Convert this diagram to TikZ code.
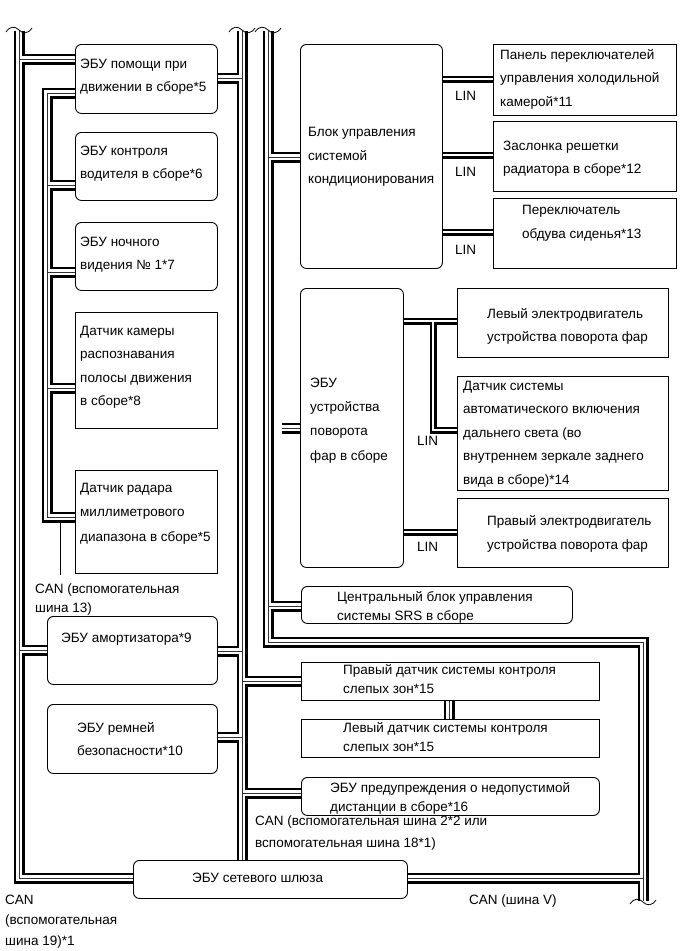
\documentclass[tikz,border=0pt]{standalone}
\usepackage{fontspec}
\setmainfont{Liberation Sans}
\pgfdeclarelayer{bg}
\pgfdeclarelayer{la}
\pgfdeclarelayer{lb}
\pgfdeclarelayer{lc}
\pgfsetlayers{bg,la,lb,lc,main}
\tikzset{
  rbox/.style={draw, line width=0.9pt, rounded corners=6pt, fill=white, inner sep=0pt, anchor=north west},
  sbox/.style={draw, line width=0.9pt, fill=white, inner sep=0pt, anchor=north west},
  txt/.style={inner sep=0pt, anchor=north west, align=left, font=\fontsize{13.5}{23.5}\selectfont},
  txtw/.style={txt, font=\fontsize{13.5}{24.3}\selectfont},
  txtm/.style={txt, font=\fontsize{13.5}{22}\selectfont},
  txtn/.style={txt, font=\fontsize{13.5}{20.5}\selectfont},
  txts/.style={txt, font=\fontsize{13.5}{19}\selectfont},
  busA/.style={line width=11pt, draw=black, line join=miter},
  busB/.style={line width=6.6pt, draw=white, line join=miter},
  busC/.style={line width=0.9pt, draw=black!80, line join=miter},
  linA/.style={line width=7pt, draw=black, line join=miter},
  linB/.style={line width=1.3pt, draw=white, line join=miter},
  brk/.style={line width=0.8pt, draw=black},
}
\newcommand\buspaths[1]{%
  % CAN sub bus 19 (left)
  \draw[#1] (Ltop) -- (19,878) -- (gate.west |- 0,878);
  \draw[#1] (19,59) -- (ecuA.west |- 0,59);
  \draw[#1] (19,650) -- (absE.west |- 0,650);
  % CAN sub bus 13
  \draw[#1] (ecuA.west |- 0,93) -- (47,93) -- (47,517) -- (radS.west |- 0,517);
  \draw[#1] (47,185) -- (ecuB.west |- 0,185);
  \draw[#1] (47,272) -- (ecuC.west |- 0,272);
  \draw[#1] (47,388) -- (camS.west |- 0,388);
  % CAN sub bus 2 / 18
  \draw[#1] (Btop) -- (gate.north -| 242,0);
  \draw[#1] (ecuA.east |- 0,78) -- (242,78);
  \draw[#1] (absE.east |- 0,651) -- (242,651);
  \draw[#1] (belt.east |- 0,737) -- (242,737);
  \draw[#1] (242,681) -- (bsmR.west |- 0,681);
  \draw[#1] (242,793) -- (dist.west |- 0,793);
  \draw[#1] (bsmR.south -| 449,0) -- (bsmL.north -| 449,0);
  % CAN V bus
  \draw[#1] (Vtop) -- (268,642) -- (643,642) -- (Vbot);
  \draw[#1] (gate.east |- 0,878) -- (643,878);
  \draw[#1] (268,157) -- (acE.west |- 0,157);
  \draw[#1] (hlstub) -- (hlE.west |- 0,428);
  \draw[#1] (268,606) -- (srs.west |- 0,606);
}
\newcommand\linpaths[1]{%
  \draw[#1] (acE.east |- 0,79) -- (pan.west |- 0,79);
  \draw[#1] (acE.east |- 0,155) -- (grl.west |- 0,155);
  \draw[#1] (acE.east |- 0,232) -- (seat.west |- 0,232);
  \draw[#1] (hlE.east |- 0,321) -- (lmot.west |- 0,321);
  \draw[#1] (433,321) -- (433,430) -- (hbs.west |- 0,430);
  \draw[#1] (hlE.east |- 0,532) -- (rmot.west |- 0,532);
}
\newcommand\brkmark[2]{%
  \draw[brk] (#1-13,#2+2) .. controls (#1-9,#2-4) and (#1-4,#2-4) .. (#1,#2) .. controls (#1+4,#2+4) and (#1+9,#2+4) .. (#1+13,#2-2);
}
\begin{document}
\begin{tikzpicture}[x=1pt,y=-1pt]
\useasboundingbox (0,0) rectangle (690,951);
\begin{pgfonlayer}{bg}
  \fill[white] (0,0) rectangle (690,951);
\end{pgfonlayer}

% ---------- boxes ----------
\node[rbox, minimum width=142pt, minimum height=69pt]  (ecuA) at (75,44) {};
\node[rbox, minimum width=142pt, minimum height=68pt]  (ecuB) at (75,132) {};
\node[rbox, minimum width=142pt, minimum height=68pt]  (ecuC) at (75,222) {};
\node[sbox, minimum width=142pt, minimum height=116pt] (camS) at (75,312) {};
\node[sbox, minimum width=142pt, minimum height=103pt] (radS) at (75,470) {};
\node[rbox, minimum width=170pt, minimum height=68pt]  (absE) at (47,616) {};
\node[rbox, minimum width=170pt, minimum height=69pt]  (belt) at (47,704) {};
\node[rbox, minimum width=274pt, minimum height=38pt]  (gate) at (133,860) {};
\node[rbox, minimum width=142pt, minimum height=224pt] (acE)  at (300,44) {};
\node[sbox, minimum width=183pt, minimum height=71pt]  (pan)  at (493,44) {};
\node[sbox, minimum width=183pt, minimum height=70pt]  (grl)  at (493,121) {};
\node[sbox, minimum width=183pt, minimum height=70pt]  (seat) at (493,198) {};
\node[rbox, minimum width=103pt, minimum height=279pt] (hlE)  at (300,288) {};
\node[sbox, minimum width=211pt, minimum height=69pt]  (lmot) at (457,288) {};
\node[sbox, minimum width=211pt, minimum height=114pt] (hbs)  at (457,376) {};
\node[sbox, minimum width=211pt, minimum height=69pt]  (rmot) at (457,498) {};
\node[rbox, minimum width=271pt, minimum height=37pt]  (srs)  at (301,586) {};
\node[sbox, minimum width=298pt, minimum height=38pt]  (bsmR) at (301,662) {};
\node[sbox, minimum width=298pt, minimum height=38pt]  (bsmL) at (301,719) {};
\node[rbox, minimum width=298pt, minimum height=38pt]  (dist) at (301,777) {};

% ---------- bus coordinates ----------
\coordinate (Ltop) at (19,31);
\coordinate (Btop) at (242,31);
\coordinate (Vtop) at (268,31);
\coordinate (Vbot) at (643,901);
\coordinate (hlstub) at (282,428);
\coordinate (ldr) at (60,522);
\coordinate (ldrend) at (60,575);

\begin{pgfonlayer}{la}\buspaths{busA}\linpaths{linA}\end{pgfonlayer}
\begin{pgfonlayer}{lb}\buspaths{busB}\linpaths{linB}\end{pgfonlayer}
\begin{pgfonlayer}{lc}\buspaths{busC}\end{pgfonlayer}

\draw[line width=0.6pt] (ldr) -- (ldrend);

% break marks
\brkmark{19}{30}
\brkmark{242}{30}
\brkmark{268}{30}
\brkmark{643}{902}

% ---------- texts ----------
\node[txt] (tA) at (80,58.5) {ЭБУ помощи при\\движении в сборе*5};
\node[txt] (tB) at (80,145.5) {ЭБУ контроля\\водителя в сборе*6};
\node[txt] (tC) at (80,236.5) {ЭБУ ночного\\видения № 1*7};
\node[txt] (tCam) at (80,326) {Датчик камеры\\распознавания\\полосы движения\\в сборе*8};
\node[txtw] (tRad) at (80,483) {Датчик радара\\миллиметрового\\диапазона в сборе*5};
\node[txt] (tAbs) at (61,633) {ЭБУ амортизатора*9};
\node[txt] (tBelt) at (77,722) {ЭБУ ремней\\безопасности*10};
\node[txt] (tGate) at (192,872.5) {ЭБУ сетевого шлюза};
\node[txt] (tAc) at (308,127.5) {Блок управления\\системой\\кондиционирования};
\node[txt] (tPan) at (500,49) {Панель переключателей\\управления холодильной\\камерой*11};
\node[txt] (tGrl) at (503,140.5) {Заслонка решетки\\радиатора в сборе*12};
\node[txt] (tSeat) at (522,205.5) {Переключатель\\обдува сиденья*13};
\node[txtw] (tHl) at (310,377.5) {ЭБУ\\устройства\\поворота\\фар в сборе};
\node[txt] (tLm) at (487,308) {Левый электродвигатель\\устройства поворота фар};
\node[txt] (tHbs) at (463,381) {Датчик системы\\автоматического включения\\дальнего света (во\\внутреннем зеркале заднего\\вида в сборе)*14};
\node[txt] (tRm) at (487,515.5) {Правый электродвигатель\\устройства поворота фар};
\node[txts] (tSrs) at (337,591) {Центральный блок управления\\системы SRS в сборе};
\node[txts] (tBr) at (343,664.5) {Правый датчик системы контроля\\слепых зон*15};
\node[txts] (tBl) at (343,722.5) {Левый датчик системы контроля\\слепых зон*15};
\node[txts] (tDist) at (330,782) {ЭБУ предупреждения о недопустимой\\дистанции в сборе*16};

\node[txts] (can13) at (35,583.5) {CAN (вспомогательная\\шина 13)};
\node[txtm] (can2) at (255,815.5) {CAN (вспомогательная шина 2*2 или\\вспомогательная шина 18*1)};
\node[txtn] (can19) at (5,894.5) {CAN\\(вспомогательная\\шина 19)*1};
\node[txt] (canV) at (469,894.5) {CAN (шина V)};

\node[txt] (lin1) at (455,91.5) {LIN};
\node[txt] (lin2) at (455,167) {LIN};
\node[txt] (lin3) at (455,245) {LIN};
\node[txt] (lin4) at (417,436) {LIN};
\node[txt] (lin5) at (417,542) {LIN};
\end{tikzpicture}
\end{document}
